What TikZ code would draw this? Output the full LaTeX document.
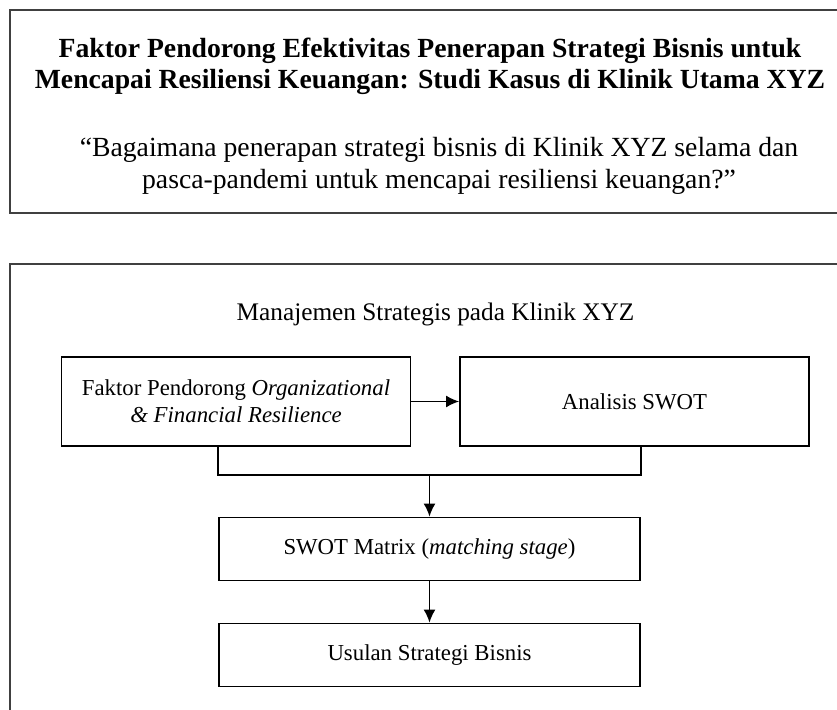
\documentclass[tikz,border=0pt]{standalone}
\usepackage{fontspec}
\setmainfont{Liberation Serif}
\usetikzlibrary{positioning,arrows.meta}

\begin{document}
\begin{tikzpicture}[x=0.5pt, y=-0.5pt, auto,
    frame/.style={draw=black!75, line width=1.1pt},
    block/.style={draw, line width=0.9pt, align=center, inner sep=0pt, font=\fontsize{11.4}{13.5}\selectfont},
    widebox/.style={block, minimum width=174.5pt, minimum height=44.5pt},
    stagebox/.style={block, minimum width=210.5pt, minimum height=31.5pt},
    link/.style={line width=0.8pt},
    flow/.style={link, -{Latex[length=6.5pt, width=6pt]}}]
    \clip (0,0) rectangle (837,710);
    \draw[frame] (10,10) rectangle (860,213);
    \draw[frame] (10,264) rectangle (860,730);

    \node [align=center, font=\fontsize{13.85}{15.5}\selectfont\bfseries] (title) at (430,66)
        {Faktor Pendorong Efektivitas Penerapan Strategi Bisnis untuk\\Mencapai Resiliensi Keuangan: Studi Kasus di Klinik Utama XYZ};
    \node [align=center, font=\fontsize{13.85}{16}\selectfont] (question) at (439,166)
        {``Bagaimana penerapan strategi bisnis di Klinik XYZ selama dan\\pasca-pandemi untuk mencapai resiliensi keuangan?''};
    \node [font=\fontsize{12.65}{14}\selectfont] (mgmt) at (435.5,314) {Manajemen Strategis pada Klinik XYZ};

    \node [widebox] (drivers) at (236,401.5) {Faktor Pendorong \textit{Organizational}\\\textit{\& Financial Resilience}};
    \node [widebox, right of=drivers, node distance=199.25pt] (swot) {Analisis SWOT};
    \node [stagebox] (matrix) at (429.5,549) {SWOT Matrix (\textit{matching stage})};
    \node [stagebox, below of=matrix, node distance=53pt] (proposal) {Usulan Strategi Bisnis};
    \coordinate (join) at (429.5,475);

    \draw [flow] (drivers) -- (swot);
    \draw [link] (drivers.south -| matrix.west) |- (join) -| (swot.south -| matrix.east);
    \draw [flow] (join) -- (matrix);
    \draw [flow] (matrix) -- (proposal);
\end{tikzpicture}
\end{document}
